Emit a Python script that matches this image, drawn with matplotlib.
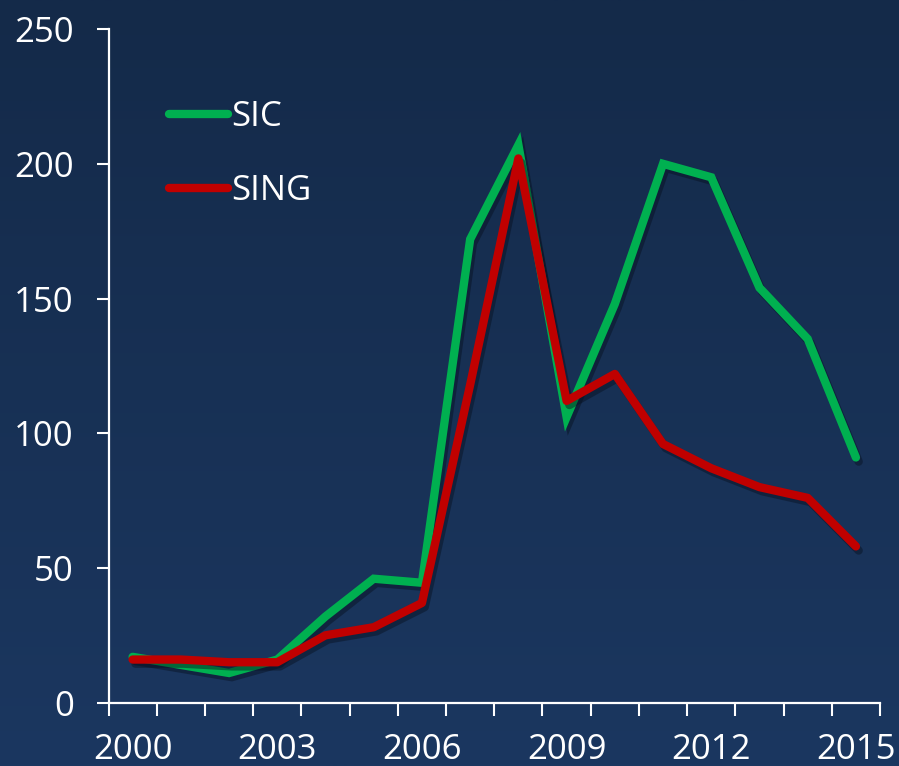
import numpy as np
import matplotlib.pyplot as plt
import matplotlib.patheffects as pe
from matplotlib.colors import LinearSegmentedColormap
from matplotlib.ticker import FixedLocator, NullFormatter

# datos
anios = list(range(2000, 2016))
sic = [17, 14, 11, 16, 32, 46, 44.5, 172, 207, 106, 148, 200, 195, 154, 135, 91]
sing = [16, 16, 15, 15, 25, 28, 37, 118, 202, 112, 122, 96, 87, 80, 76, 58]
etiquetas_x = ["2000", "2003", "2006", "2009", "2012", "2015"]

plt.rcParams['font.family'] = ['Open Sans', 'DejaVu Sans']

fig = plt.figure(figsize=(8.99, 7.66), dpi=100)

# fondo degradado
bg = fig.add_axes([0, 0, 1, 1], zorder=-10)
fondo = LinearSegmentedColormap.from_list("fondo", ["#142a49", "#1b3760"])
bg.imshow(np.linspace(0, 1, 256).reshape(-1, 1), aspect='auto', cmap=fondo,
          extent=[0, 1, 0, 1], origin='upper')
bg.axis('off')

ax = fig.add_axes([0.1207, 0.0827, 0.8582, 0.8793])
ax.set_facecolor('none')

x = np.arange(len(anios))
sombra = [pe.SimpleLineShadow(offset=(2, -3), shadow_color='#07101f', alpha=0.45), pe.Normal()]
ax.plot(x, sic, color='#00b050', lw=6, solid_capstyle='round', solid_joinstyle='miter',
        label='SIC', path_effects=sombra)
ax.plot(x, sing, color='#c00000', lw=6, solid_capstyle='round', solid_joinstyle='round',
        label='SING', path_effects=sombra)

ax.set_xlim(-0.5, 15.5)
ax.set_ylim(0, 250)
ax.set_yticks([0, 50, 100, 150, 200, 250])

ax.set_xticks([0, 3, 6, 9, 12, 15])
ax.set_xticklabels(etiquetas_x)
ax.xaxis.set_minor_locator(FixedLocator(np.arange(-0.5, 16, 1)))
ax.xaxis.set_minor_formatter(NullFormatter())
ax.tick_params(axis='x', which='major', length=0, pad=22, labelsize=25, colors='white')
ax.tick_params(axis='x', which='minor', length=9, width=1.5, color='white', direction='out')
ax.tick_params(axis='y', length=9, width=1.5, colors='white', pad=16, labelsize=25)

for lado in ['top', 'right']:
    ax.spines[lado].set_visible(False)
for lado in ['left', 'bottom']:
    ax.spines[lado].set_color('white')
    ax.spines[lado].set_linewidth(1.6)

leg = ax.legend(loc='upper left', bbox_to_anchor=(0.038, 0.941), frameon=False,
                fontsize=25, handlelength=1.7, handletextpad=0.1, labelspacing=1.15,
                labelcolor='white')
for linea in leg.get_lines():
    linea.set_path_effects([])
    linea.set_linewidth(6)
    linea.set_solid_capstyle('round')

fig.savefig("out.png", dpi=100, facecolor='#17304f')
